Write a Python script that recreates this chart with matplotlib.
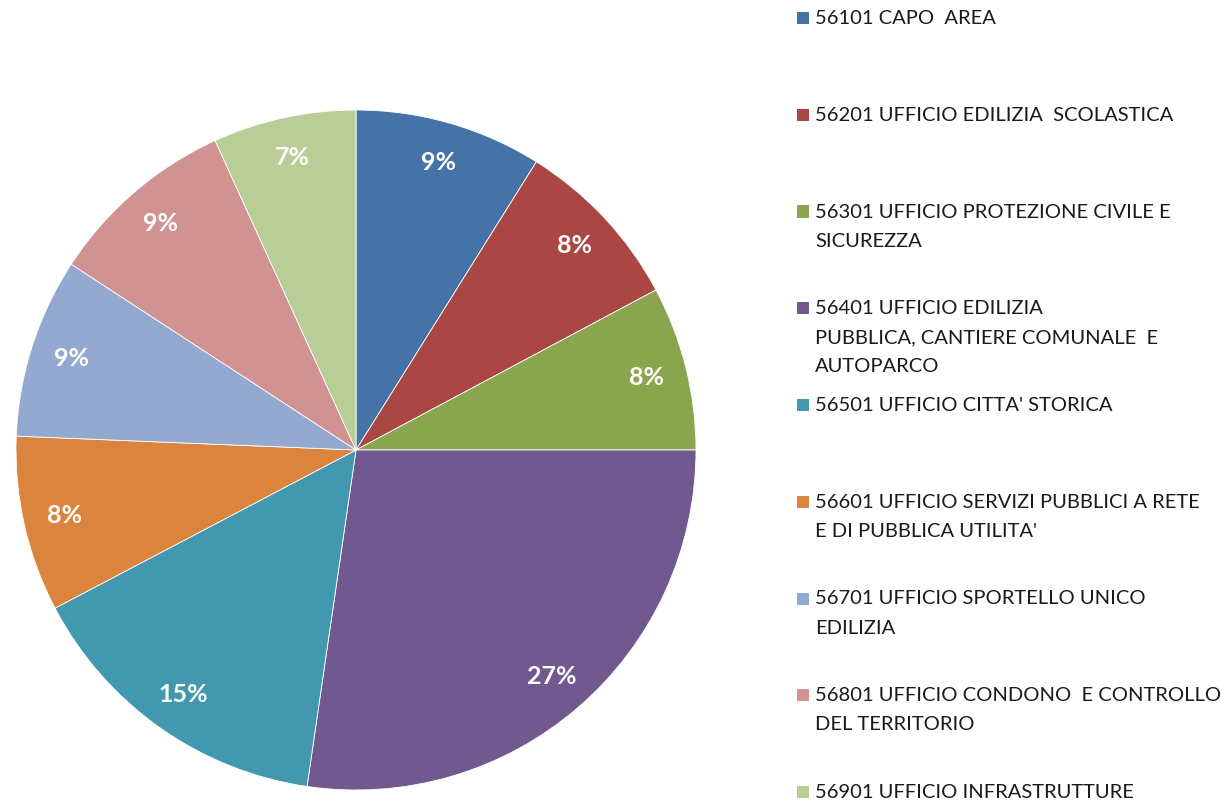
import matplotlib.pyplot as plt
from matplotlib.patches import Rectangle

# Data
labels = ["56101 CAPO  AREA",
          "56201 UFFICIO EDILIZIA  SCOLASTICA",
          "56301 UFFICIO PROTEZIONE CIVILE E\nSICUREZZA",
          "56401 UFFICIO EDILIZIA\nPUBBLICA, CANTIERE COMUNALE  E\nAUTOPARCO",
          "56501 UFFICIO CITTA' STORICA",
          "56601 UFFICIO SERVIZI PUBBLICI A RETE\nE DI PUBBLICA UTILITA'",
          "56701 UFFICIO SPORTELLO UNICO\nEDILIZIA",
          "56801 UFFICIO CONDONO  E CONTROLLO\nDEL TERRITORIO",
          "56901 UFFICIO INFRASTRUTTURE"]
values = [8.9, 8.3, 7.8, 27.3, 15.0, 8.35, 8.55, 9.0, 6.8]
colors = ["#4572A7", "#AA4643", "#89A54E", "#71588F", "#4198AF",
          "#DB843D", "#93A9CF", "#D19392", "#B9CD96"]

W, H = 1222, 806
fig = plt.figure(figsize=(W / 100, H / 100), dpi=100)

# Pie
cx, cy, r = 356, 450, 340
ax = fig.add_axes([(cx - r) / W, (H - cy - r) / H, 2 * r / W, 2 * r / H])
wedges, texts, autotexts = ax.pie(
    values, colors=colors, startangle=90, counterclock=False,
    autopct=lambda p: f"{p:.0f}%", pctdistance=0.88,
    wedgeprops=dict(linewidth=0.6, edgecolor="white"),
    textprops=dict(color="white", fontsize=18, fontweight="bold", family="Lato"))
ax.set_xlim(-1, 1)
ax.set_ylim(-1, 1)
ax.set_aspect("equal")
ax.axis("off")

# Legend drawn by hand
step = 96.75
for i, (lab, col) in enumerate(zip(labels, colors)):
    yc = 18 + i * step
    fig.patches.append(Rectangle(((797) / W, (H - yc - 6) / H), 12 / W, 12 / H,
                                 transform=fig.transFigure, facecolor=col,
                                 edgecolor="none"))
    fig.text(815 / W, (H - yc + 8) / H, lab, ha="left", va="top",
             fontsize=14.5, family="Lato", color="#1a1a1a", linespacing=1.86)

fig.savefig("out.png", dpi=100, facecolor="white")
